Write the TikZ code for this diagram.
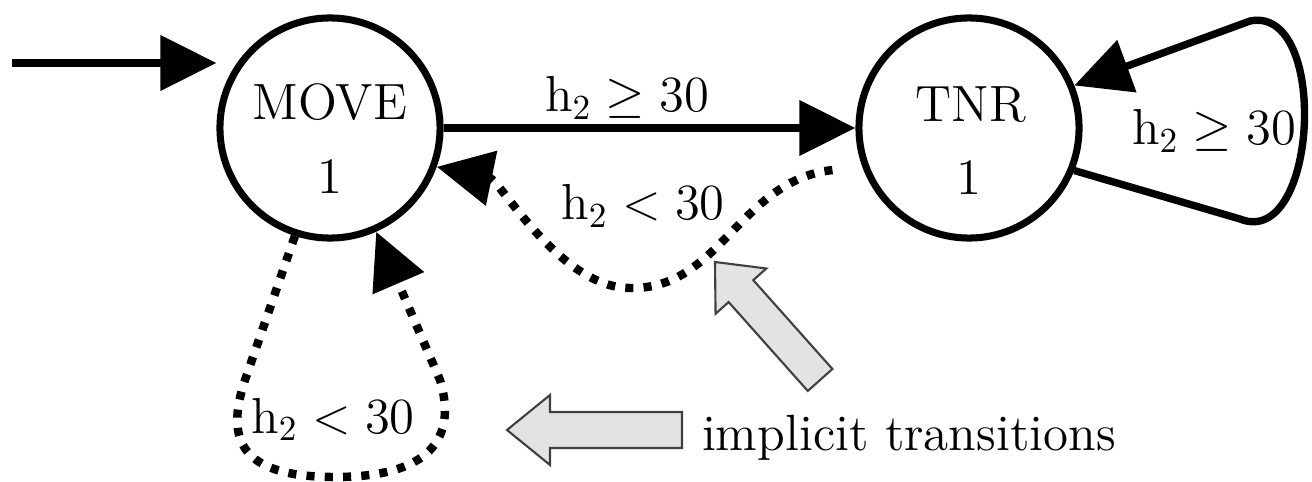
\documentclass[tikz,border=0pt]{standalone}
\usepackage{amsmath,amssymb}
\usepackage{tikz}
\usetikzlibrary{arrows.meta}

\tikzset{
  state/.style={circle,draw,line width=2pt,minimum size=2.2cm,inner sep=0pt},
  trans/.style={line width=2.1pt,-{Triangle[length=0.56cm,width=0.54cm]}},
  implicittrans/.style={trans,line width=2.4pt,dash pattern=on 2.3pt off 2.9pt},
  hint/.style={draw=black!75,line width=0.6pt,fill=black!11,line join=miter},
}

\begin{document}
\begin{tikzpicture}[x=0.01cm,y=-0.01cm,every node/.style={font=\fontsize{14.5}{17.4}\selectfont}]
\useasboundingbox (0,0) rectangle (1312,482);
% states
\node[state] (move) at (330,128) {};
\node[state] (tnr) at (969,128) {};
\node[anchor=base] (movename) at (330,120) {MOVE};
\node[anchor=base] (movecount) at (330,193) {1};
\node[anchor=base] (tnrname) at (971,122) {TNR};
\node[anchor=base] (tnrcount) at (969,195) {1};
% explicit transitions
\coordinate (init) at (12,63);
\draw[trans] (init) -- (init -| move.west);
\draw[trans] (move) -- (tnr);
\draw[trans] (tnr.-22) -- (1240,219) .. controls (1318,250) and (1330,5) .. (1250,21) -- (tnr.22);
\node[anchor=base] (lblgo) at (627,112) {$\mathrm{h}_2 \geq 30$};
\node[anchor=base] (lblstay) at (1214,145) {$\mathrm{h}_2 \geq 30$};
% implicit transitions
\draw[implicittrans,shorten <=0.3cm] (tnr.200) .. controls (740,180) and (720,290) .. (630,288)
  .. controls (560,288) and (500,180) .. (move.-20);
\draw[implicittrans] (move.-108) -- (245,380) .. controls (225,440) and (240,477) .. (335,477)
  .. controls (440,477) and (455,430) .. (440,380) -- (move.-66);
\node[anchor=base] (lblback) at (643,220) {$\mathrm{h}_2 < 30$};
\node[anchor=base] (lblself) at (333,433) {$\mathrm{h}_2 < 30$};
% pointers
\draw[hint,shift={(715,262)},rotate=131.7] (0,0) -- (-39,-34) -- (-39,-16.5) -- (-158,-16.5)
  -- (-158,16.5) -- (-39,16.5) -- (-39,34) -- cycle;
\draw[hint,shift={(507,430)},rotate=180] (0,0) -- (-43,-35) -- (-43,-18) -- (-175,-18)
  -- (-175,18) -- (-43,18) -- (-43,35) -- cycle;
\node[anchor=base] (note) at (909,450) {implicit transitions};
\end{tikzpicture}
\end{document}
